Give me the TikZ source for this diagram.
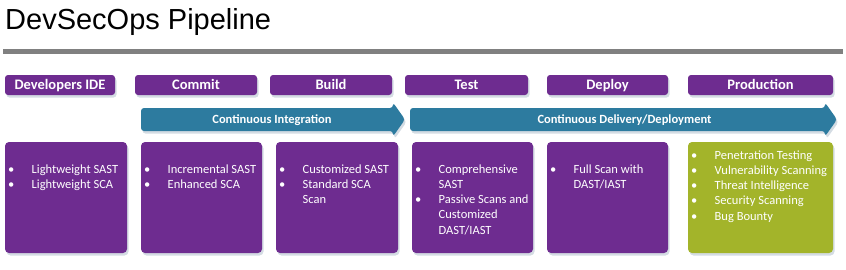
\documentclass[tikz,border=0pt]{standalone}
\usepackage{fontspec}
\setmainfont{Carlito}
\newfontfamily\titlefont{Liberation Sans}
\usetikzlibrary{shadows}
\definecolor{pur}{HTML}{6E2C90}
\definecolor{grn}{HTML}{A3B42A}
\definecolor{tealc}{HTML}{2D7B9F}
\definecolor{barg}{HTML}{808080}
\definecolor{shad}{HTML}{C9D3DC}
\newcommand\bl{\makebox[23.5pt][l]{\textbullet}}
\newcommand\ind{\hspace*{23.5pt}}
\newcommand\fst{\rule{0pt}{9.5pt}}
\begin{document}
\begin{tikzpicture}[x=1pt,y=-1pt,
  softshadow/.style={drop shadow={fill=shad, opacity=0.8, shadow xshift=1.5pt, shadow yshift=-2.5pt}},
  hdr/.style={fill=pur, rounded corners=3pt, text=white, font=\bfseries\fontsize{14.5}{16}\selectfont, minimum height=20pt, text height=10pt, text depth=2pt, inner sep=0pt, softshadow},
  card/.style={fill=pur, rounded corners=4pt, minimum height=111pt, inner sep=0pt, softshadow},
  list/.style={anchor=north west, inner sep=0pt, align=left, text=white, font=\fontsize{12.5}{15.25}\selectfont},
  flow/.style={fill=tealc, rounded corners=3pt, softshadow},
  flowlbl/.style={text=white, font=\bfseries\fontsize{12.5}{14}\selectfont, text height=8.5pt, text depth=2.5pt, inner sep=0pt}]
\useasboundingbox (0,0) rectangle (846,269);

% title and rule
\node[anchor=base west, inner sep=0pt, font=\titlefont\fontsize{29}{33}\selectfont] (title) at (5,29.5) {DevSecOps Pipeline};
\fill[barg] (3,48.5) rectangle (843,53.5);

% stage headers
\node[hdr, minimum width=110pt] (h1) at (60,85) {Developers IDE};
\node[hdr, minimum width=122pt] (h2) at (196,85) {Commit};
\node[hdr, minimum width=122pt] (h3) at (331,85) {Build};
\node[hdr, minimum width=123pt] (h4) at (466.5,85) {Test};
\node[hdr, minimum width=121pt] (h5) at (607.5,85) {Deploy};
\node[hdr, minimum width=145pt] (h6) at (760.5,85) {Production};

% flow arrows
\path[flow] (141,108) -- (393,108) -- (393,102.5) -- (405,119.5) -- (393,136.5) -- (393,131) -- (141,131) -- cycle;
\node[flowlbl] (ci) at (272,120.5) {Continuous Integration};
\path[flow] (410,108) -- (825,108) -- (825,102.5) -- (837,119.5) -- (825,136.5) -- (825,131) -- (410,131) -- cycle;
\node[flowlbl] (cd) at (624.5,120.5) {Continuous Delivery/Deployment};

% cards
\node[card, minimum width=122pt] (c1) at (66,197.5) {};
\node[card, minimum width=121pt] (c2) at (201.5,197.5) {};
\node[card, minimum width=122pt] (c3) at (337,197.5) {};
\node[card, minimum width=121pt] (c4) at (472.5,197.5) {};
\node[card, minimum width=121pt] (c5) at (607.5,197.5) {};
\node[card, minimum width=145pt, fill=grn] (c6) at (760.5,197.5) {};

% card texts
\node[list] (t1) at (8,163.5) {\fst\bl Lightweight SAST\\\bl Lightweight SCA};
\node[list] (t2) at (144,163.5) {\fst\bl Incremental SAST\\\bl Enhanced SCA};
\node[list] (t3) at (279,163.5) {\fst\bl Customized SAST\\\bl Standard SCA\\\ind Scan};
\node[list] (t4) at (415,163.5) {\fst\bl Comprehensive\\\ind SAST\\\bl Passive Scans and\\\ind Customized\\\ind DAST/IAST};
\node[list] (t5) at (550,163.5) {\fst\bl Full Scan with\\\ind DAST/IAST};
\node[list] (t6) at (691,149.5) {\fst\bl Penetration Testing\\\bl Vulnerability Scanning\\\bl Threat Intelligence\\\bl Security Scanning\\\bl Bug Bounty};
\end{tikzpicture}
\end{document}
